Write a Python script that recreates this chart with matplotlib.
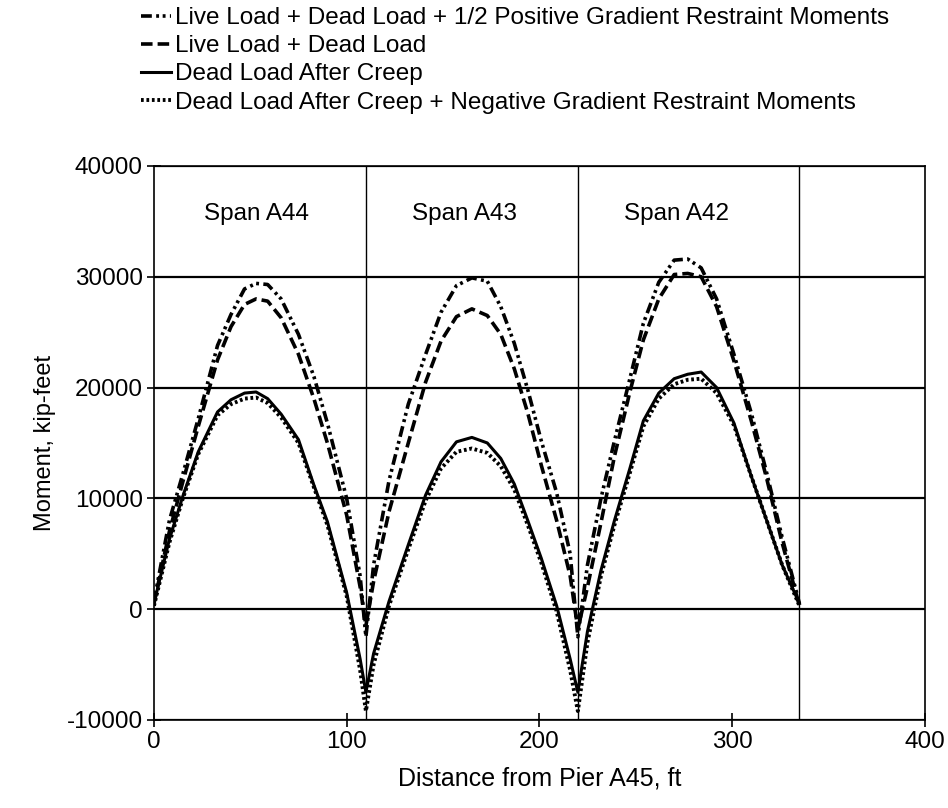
import matplotlib
matplotlib.use('Agg')
from matplotlib import pyplot as plt

# distance from Pier A45 (ft)
dist = [0, 8, 15, 23, 33, 40, 47, 53, 59, 66, 75, 83, 90, 100, 107, 110,
        114, 122, 132, 141, 149, 157, 165, 173, 180, 187, 194, 201, 209, 216, 220,
        225, 232, 239, 247, 254, 262, 270, 277, 284, 292, 301, 310, 318, 326, 335]

# moments, kip-feet
ll_dl_pos = [700, 8000, 12200, 17200, 23800, 26600, 28900, 29400, 29300, 28000, 24800, 21000, 16800, 10000, 3000, -2500,
             4000, 11600, 18500, 23000, 26800, 29200, 29900, 29600, 27300, 24000, 19800, 15200, 10500, 5000, -2500,
             4000, 10000, 15200, 20800, 25800, 29500, 31500, 31600, 30800, 28000, 23000, 17700, 12300, 6500, 500]
ll_dl = [500, 7000, 11500, 16500, 22500, 25500, 27500, 28000, 27800, 26300, 23000, 19000, 15000, 8500, 2000, -1500,
         2500, 8800, 15000, 20500, 24200, 26400, 27100, 26500, 24800, 21700, 17700, 13000, 8000, 3000, -1800,
         2000, 7800, 13800, 19600, 24300, 28000, 30200, 30300, 30000, 27300, 22400, 17000, 11800, 6000, 300]
dl_creep = [500, 6300, 10200, 14200, 17800, 18900, 19500, 19600, 19000, 17600, 15300, 11200, 7900, 1500, -4500, -7500,
            -4000, 700, 5800, 10300, 13300, 15100, 15500, 15000, 13600, 11300, 8000, 4600, 300, -4500, -7500,
            -2000, 3500, 8000, 12700, 17000, 19500, 20800, 21200, 21400, 20000, 16800, 12000, 8000, 4000, 500]
dl_creep_neg = [300, 6000, 10000, 14000, 17500, 18500, 19000, 19100, 18600, 17300, 15000, 11000, 7600, 1200, -5500, -9200,
                -5000, 300, 5400, 9800, 12700, 14200, 14500, 14100, 12900, 10800, 7600, 4200, -200, -5500, -9200,
                -3000, 3000, 7600, 12300, 16500, 19000, 20300, 20700, 20800, 19500, 16600, 12000, 8000, 4000, 300]

piers = [110, 220, 335]
span_names = ['Span A44', 'Span A43', 'Span A42']
span_x = [53, 161, 271]

plt.rcParams['font.family'] = ['Liberation Sans', 'DejaVu Sans']
plt.rcParams['axes.unicode_minus'] = False

fig = plt.figure(figsize=(9.48, 8.08), dpi=100)
ax = fig.add_axes([0.1624, 0.109, 0.813, 0.6856])

ax.plot(dist, ll_dl_pos, color='black', lw=2.6, dashes=(3, 1.2, 0.8, 1.0, 0.8, 1.2),
        label='Live Load + Dead Load + 1/2 Positive Gradient Restraint Moments')
ax.plot(dist, ll_dl, color='black', lw=2.6, dashes=(3.2, 1.4),
        label='Live Load + Dead Load')
ax.plot(dist, dl_creep, color='black', lw=2.2, label='Dead Load After Creep')
ax.plot(dist, dl_creep_neg, color='black', lw=2.8, dashes=(0.7, 0.7),
        label='Dead Load After Creep + Negative Gradient Restraint Moments')

for p in piers:
    ax.axvline(p, color='black', lw=1.0)
for name, sx in zip(span_names, span_x):
    ax.text(sx, 35700, name, ha='center', va='center', fontsize=17.5)

ax.set_xlim(0, 400)
ax.set_ylim(-10000, 40000)
ax.set_xticks([0, 100, 200, 300, 400])
ax.set_yticks([-10000, 0, 10000, 20000, 30000, 40000])
ax.yaxis.grid(True, color='black', lw=1.6)
ax.tick_params(direction='inout', length=10, width=1.2, labelsize=17.5, pad=3)
for s in ax.spines.values():
    s.set_linewidth(1.2)

ax.set_xlabel('Distance from Pier A45, ft', fontsize=18, labelpad=10)
ax.set_ylabel('Moment, kip-feet', fontsize=17, labelpad=8)

fig.legend(loc='upper left', bbox_to_anchor=(0.138, 1.003), frameon=False,
           fontsize=17.5, handlelength=1.25, handletextpad=0.15, labelspacing=0.25,
           borderaxespad=0)

fig.savefig('out.png', dpi=100)
